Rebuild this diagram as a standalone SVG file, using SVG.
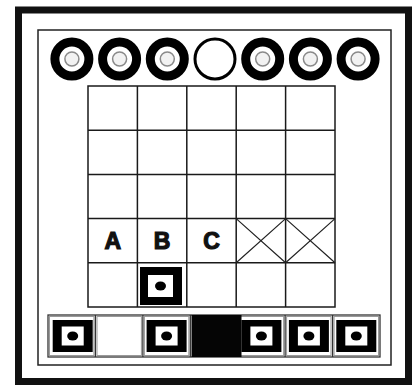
<svg xmlns="http://www.w3.org/2000/svg" width="414" height="385" viewBox="0 0 414 385">
<style>
.grid{fill:none;stroke:#1a1a1a;stroke-width:1.5}
.frame{fill:none;stroke:#111;stroke-width:7}
.inner{fill:none;stroke:#222;stroke-width:1.5}
.ring{fill:none;stroke:#000;stroke-width:9}
.hole{fill:#f2f2f2;stroke:#8a8a8a;stroke-width:1.5}
.empty{fill:#fff;stroke:#000;stroke-width:3}
.cellin{fill:none;stroke:#999;stroke-width:1}
.lbl{font-family:"Liberation Sans",Arial,sans-serif;font-weight:bold;font-size:23px;fill:#111;stroke:#111;stroke-width:1.2;text-anchor:middle}
.cross{stroke:#222;stroke-width:1.2}
</style>
<defs>
<g id="disc">
<circle r="17" class="ring"/>
<circle r="7" class="hole"/>
</g>
<g id="piece">
<rect x="-20" y="-16" width="40" height="32" fill="#000"/>
<rect x="-11" y="-9.5" width="22" height="19" fill="#fff"/>
<ellipse rx="5.5" ry="4.5" fill="#000"/>
</g>
</defs>
<rect width="414" height="385" fill="#fff"/>
<rect id="outer-frame" x="18.5" y="10" width="390" height="371.5" class="frame"/>
<rect id="inner-frame" x="38" y="30" width="353" height="335" class="inner"/>
<g id="discs">
<use href="#disc" x="71.9" y="59"/>
<use href="#disc" x="119.6" y="59"/>
<use href="#disc" x="167.3" y="59"/>
<circle cx="215" cy="59" r="20" class="empty"/>
<use href="#disc" x="262.7" y="59"/>
<use href="#disc" x="310.4" y="59"/>
<use href="#disc" x="358.1" y="59"/>
</g>
<g id="board">
<rect x="88" y="86" width="247" height="221" class="grid"/>
<path class="grid" d="M137.4 86V307M186.8 86V307M236.2 86V307M285.6 86V307M88 130.2H335M88 174.4H335M88 218.6H335M88 262.8H335"/>
</g>
<g id="connectors">
<path class="cross" d="M236.2 218.6L285.6 262.8M285.6 218.6L236.2 262.8M285.6 218.6L335 262.8M335 218.6L285.6 262.8"/>
</g>
<g id="labels">
<text class="lbl" x="112.7" y="249">A</text>
<text class="lbl" x="162" y="249">B</text>
<text class="lbl" x="211.5" y="249">C</text>
</g>
<g id="board-piece">
<rect x="140" y="267" width="42" height="38" fill="#000"/>
<rect x="148" y="275" width="25" height="22" fill="#fff"/>
<ellipse cx="160.5" cy="286" rx="5.5" ry="4.5" fill="#000"/>
</g>
<g id="rack">
<rect x="48" y="315" width="332" height="42" fill="#fff" stroke="#333" stroke-width="1.3"/>
<g id="rack-cells">
<rect x="49.5" y="316.5" width="44.4" height="39" class="cellin"/>
<rect x="97" y="316.5" width="44.4" height="39" class="cellin"/>
<rect x="144.4" y="316.5" width="44.4" height="39" class="cellin"/>
<rect x="239.2" y="316.5" width="44.4" height="39" class="cellin"/>
<rect x="286.6" y="316.5" width="44.4" height="39" class="cellin"/>
<rect x="334.1" y="316.5" width="44.4" height="39" class="cellin"/>
<path d="M95.4 315V357M142.9 315V357M190.3 315V357M237.7 315V357M285.1 315V357M332.6 315V357" stroke="#333" stroke-width="1.3"/>
</g>
<use href="#piece" x="72.7" y="336"/>
<use href="#piece" x="166.6" y="336"/>
<rect id="rack-black" x="191.5" y="315" width="50" height="42" fill="#050505"/>
<use href="#piece" x="261.4" y="336"/>
<use href="#piece" x="308.9" y="336"/>
<use href="#piece" x="356.3" y="336"/>
</g>
</svg>
